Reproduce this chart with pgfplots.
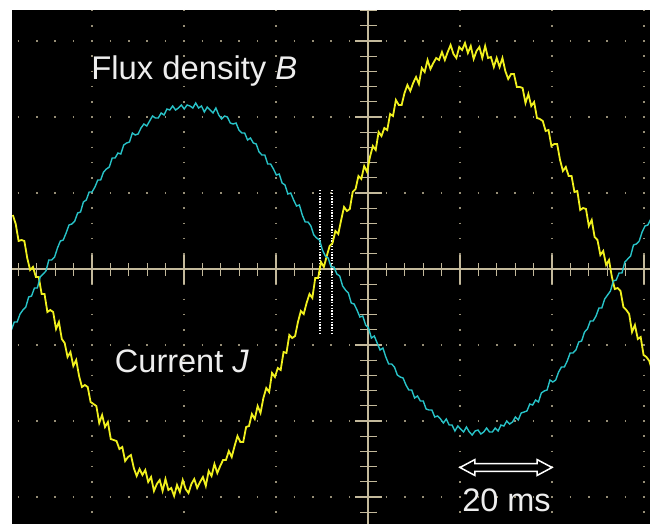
\documentclass[border=0pt]{standalone}
\usepackage{fontspec}
\setmainfont{Liberation Sans}
\usepackage{pgfplots}
\pgfplotsset{compat=1.18}
\definecolor{scopeyellow}{RGB}{240,240,30}
\definecolor{scopecyan}{RGB}{40,195,200}
\definecolor{gridtan}{RGB}{150,142,118}
\definecolor{axistan}{RGB}{195,185,155}
\definecolor{labelgray}{RGB}{238,238,238}
\begin{document}
\begin{tikzpicture}
\fill[white] (-12bp,0) rectangle (638bp,524bp);
\fill[black] (0,0) rectangle (638bp,514bp);
\begin{axis}[at={(0,0)}, anchor=south west, scale only axis,
  width=638bp, height=514bp,
  xmin=-7.292, xmax=214.236, ymin=10, ymax=524, y dir=reverse,
  hide axis, clip=true]
% dotted graticule
\pgfplotsinvokeforeach{41,117,193,345,421,497}{
  \draw[gridtan, line width=1.5bp, dash pattern=on 1.5bp off 16.9bp] (axis cs:-5.33,#1) -- (axis cs:214.236,#1);
}
\pgfplotsinvokeforeach{20.49,52.43,84.38,148.27,180.21,212.15}{
  \draw[gridtan, line width=1.5bp, dash pattern=on 1.5bp off 13.7bp] (axis cs:#1,9.85) -- (axis cs:#1,524);
}
% centre axes with ticks
\draw[axistan, line width=2bp] (axis cs:-7.292,269) -- (axis cs:214.236,269);
\draw[axistan, line width=2bp] (axis cs:116.32,10) -- (axis cs:116.32,524);
\draw[axistan, line width=13bp, dash pattern=on 1.3bp off 17.1bp] (axis cs:-5.295,269) -- (axis cs:214.236,269);
\draw[axistan, line width=29bp, dash pattern=on 1.3bp off 90.7bp] (axis cs:20.26,269) -- (axis cs:214.236,269);
\draw[axistan, line width=17bp, dash pattern=on 1.3bp off 13.9bp] (axis cs:116.32,9.95) -- (axis cs:116.32,524);
\draw[axistan, line width=27bp, dash pattern=on 1.3bp off 74.7bp] (axis cs:116.32,40.35) -- (axis cs:116.32,524);
% cursors
\draw[white, line width=1.3bp, dash pattern=on 1.3bp off 1.5bp] (axis cs:99.65,190) -- (axis cs:99.65,335);
\draw[white, line width=1.3bp, dash pattern=on 1.3bp off 1.5bp] (axis cs:103.82,190) -- (axis cs:103.82,335);
% Current J
\addplot[scopeyellow, line width=1.8bp, no markers] coordinates {
(-7,215) (-6,224) (-5,241) (-4,240) (-3,241) (-2,258) (-1,270) (0,267) (1,277) (2,277) (3,294) (4,294) (5,312) (6,310) (7,312) (8,329) (9,322) (10,339) (11,343) (12,357) (13,352) (14,366) (15,360) (16,376) (17,387) (18,385) (19,387) (20,402) (21,404) (22,406) (23,423) (24,415) (25,427) (26,422) (27,439) (28,440) (29,441) (30,449) (31,447) (32,461) (33,457) (34,455) (35,468) (36,476) (37,469) (38,475) (39,470) (40,482) (41,477) (42,491) (43,484) (44,480) (45,491) (46,479) (47,490) (48,488) (49,496) (50,485) (51,492) (52,480) (53,489) (54,493) (55,484) (56,479) (57,488) (58,482) (59,477) (60,486) (61,471) (62,476) (63,464) (64,473) (65,466) (66,460) (67,460) (68,451) (69,457) (70,446) (71,436) (72,442) (73,442) (74,427) (75,426) (76,414) (77,419) (78,406) (79,413) (80,398) (81,388) (82,392) (83,373) (84,377) (85,368) (86,370) (87,352) (88,353) (89,335) (90,338) (91,336) (92,322) (93,311) (94,314) (95,303) (96,294) (97,298) (98,278) (99,278) (100,262) (101,267) (102,256) (103,246) (104,243) (105,231) (106,234) (107,220) (108,207) (109,211) (110,209) (111,192) (112,189) (113,176) (114,179) (115,166) (116,172) (117,157) (118,146) (119,150) (120,132) (121,136) (122,128) (123,130) (124,114) (125,116) (126,100) (127,105) (128,105) (129,93) (130,85) (131,91) (132,83) (133,77) (134,84) (135,68) (136,72) (137,60) (138,69) (139,63) (140,58) (141,60) (142,52) (143,60) (144,52) (145,45) (146,54) (147,58) (148,47) (149,50) (150,43) (151,53) (152,46) (153,59) (154,51) (155,47) (156,58) (157,46) (158,58) (159,57) (160,67) (161,58) (162,67) (163,58) (164,71) (165,79) (166,74) (167,74) (168,87) (169,87) (170,88) (171,103) (172,94) (173,106) (174,102) (175,118) (176,119) (177,121) (178,131) (179,130) (180,146) (181,144) (182,144) (183,160) (184,171) (185,167) (186,176) (187,176) (188,192) (189,191) (190,210) (191,208) (192,209) (193,226) (194,220) (195,237) (196,240) (197,255) (198,251) (199,265) (200,260) (201,277) (202,289) (203,288) (204,291) (205,307) (206,310) (207,314) (208,332) (209,325) (210,339) (211,337) (212,355) (213,357) (214,361) (215,371)
};
% Flux density B
\addplot[scopecyan, line width=1.4bp, no markers] coordinates {
(-7.5,330) (-6.5,322) (-5.5,322) (-4.5,314) (-3.5,310) (-2.5,307) (-1.5,297) (-0.5,296) (0.5,288) (1.5,288) (2.5,277) (3.5,274) (4.5,271) (5.5,260) (6.5,260) (7.5,257) (8.5,248) (9.5,241) (10.5,240) (11.5,233) (12.5,225) (13.5,224) (14.5,221) (15.5,213) (16.5,212) (17.5,202) (18.5,200) (19.5,192) (20.5,192) (21.5,187) (22.5,180) (23.5,180) (24.5,172) (25.5,169) (26.5,167) (27.5,158) (28.5,158) (29.5,153) (30.5,154) (31.5,145) (32.5,143) (33.5,142) (34.5,133) (35.5,135) (36.5,134) (37.5,128) (38.5,124) (39.5,126) (40.5,121) (41.5,116) (42.5,118) (43.5,118) (44.5,113) (45.5,115) (46.5,109) (47.5,110) (48.5,106) (49.5,110) (50.5,108) (51.5,105) (52.5,109) (53.5,105) (54.5,106) (55.5,108) (56.5,103) (57.5,108) (58.5,106) (59.5,112) (60.5,107) (61.5,110) (62.5,113) (63.5,108) (64.5,115) (65.5,119) (66.5,116) (67.5,117) (68.5,123) (69.5,124) (70.5,123) (71.5,130) (72.5,133) (73.5,133) (74.5,140) (75.5,138) (76.5,143) (77.5,144) (78.5,152) (79.5,155) (80.5,155) (81.5,164) (82.5,164) (83.5,169) (84.5,175) (85.5,174) (86.5,183) (87.5,185) (88.5,194) (89.5,193) (90.5,200) (91.5,206) (92.5,205) (93.5,215) (94.5,222) (95.5,222) (96.5,226) (97.5,235) (98.5,238) (99.5,240) (100.5,250) (101.5,256) (102.5,258) (103.5,267) (104.5,267) (105.5,274) (106.5,276) (107.5,286) (108.5,290) (109.5,293) (110.5,303) (111.5,304) (112.5,310) (113.5,317) (114.5,316) (115.5,325) (116.5,328) (117.5,338) (118.5,336) (119.5,343) (120.5,350) (121.5,348) (122.5,357) (123.5,364) (124.5,364) (125.5,367) (126.5,375) (127.5,377) (128.5,378) (129.5,385) (130.5,390) (131.5,390) (132.5,398) (133.5,396) (134.5,401) (135.5,401) (136.5,409) (137.5,410) (138.5,410) (139.5,417) (140.5,416) (141.5,419) (142.5,423) (143.5,419) (144.5,425) (145.5,425) (146.5,431) (147.5,426) (148.5,429) (149.5,432) (150.5,427) (151.5,432) (152.5,435) (153.5,431) (154.5,430) (155.5,434) (156.5,432) (157.5,428) (158.5,432) (159.5,432) (160.5,428) (161.5,431) (162.5,425) (163.5,426) (164.5,421) (165.5,424) (166.5,422) (167.5,417) (168.5,420) (169.5,413) (170.5,412) (171.5,411) (172.5,404) (173.5,405) (174.5,400) (175.5,402) (176.5,393) (177.5,391) (178.5,390) (179.5,380) (180.5,382) (181.5,380) (182.5,372) (183.5,367) (184.5,367) (185.5,361) (186.5,353) (187.5,353) (188.5,350) (189.5,342) (190.5,341) (191.5,332) (192.5,329) (193.5,321) (194.5,321) (195.5,316) (196.5,308) (197.5,308) (198.5,299) (199.5,295) (200.5,291) (201.5,281) (202.5,280) (203.5,273) (204.5,273) (205.5,262) (206.5,259) (207.5,256) (208.5,245) (209.5,244) (210.5,241) (211.5,232) (212.5,226) (213.5,225) (214.5,219)
};
% labels
\node[anchor=base west, text=labelgray, font=\fontsize{32.8bp}{38bp}\selectfont, inner sep=0pt] at (axis cs:20.2,80) {Flux density \textit{B}};
\node[anchor=base west, text=labelgray, font=\fontsize{32.5bp}{38bp}\selectfont, inner sep=0pt] at (axis cs:28.4,372) {Current \textit{J}};
\node[anchor=base, text=labelgray, font=\fontsize{32.5bp}{38bp}\selectfont, inner sep=0pt] at (axis cs:164.41,511.7) {20 ms};
% 20 ms arrow
\draw[white, line width=1.5bp, line join=miter] (axis cs:148.26,467.5) -- (axis cs:153.47,459.5) -- (axis cs:153.47,463.7) -- (axis cs:175.0,463.7) -- (axis cs:175.0,459.5) -- (axis cs:180.21,467.5) -- (axis cs:175.0,475.5) -- (axis cs:175.0,471.3) -- (axis cs:153.47,471.3) -- (axis cs:153.47,475.5) -- cycle;
\end{axis}
\end{tikzpicture}
\end{document}
